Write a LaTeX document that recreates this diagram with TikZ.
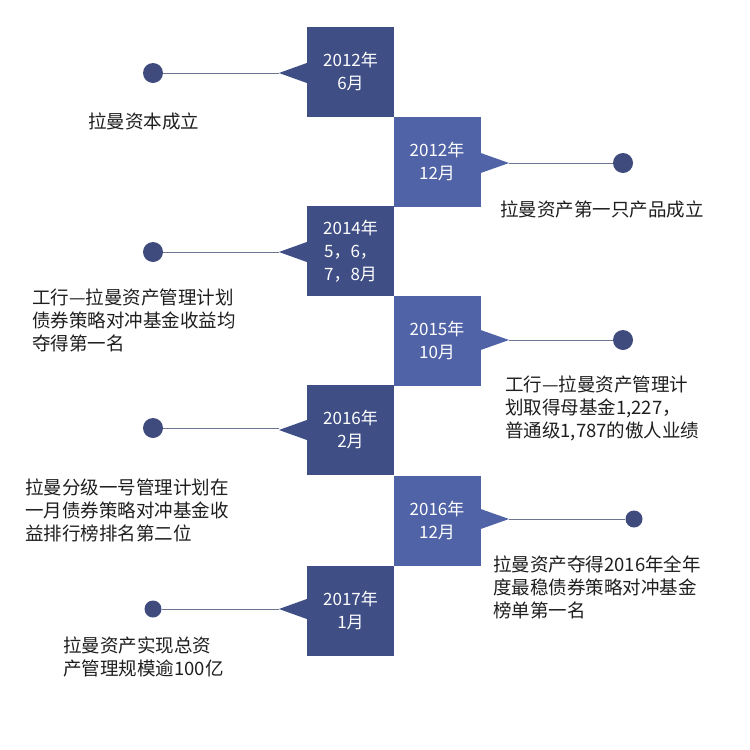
\documentclass[tikz,border=0pt]{standalone}
\usepackage{fontspec}
\setmainfont{Noto Sans CJK SC}
\begin{document}
\begin{tikzpicture}[x=1pt,y=-1pt,
  dk/.style={fill={rgb,255:red,63;green,78;blue,133}},
  lt/.style={fill={rgb,255:red,80;green,99;blue,166}},
  box/.style={minimum width=87pt,minimum height=90pt,inner sep=0pt,text=white,align=center,font=\fontsize{17}{23}\selectfont},
  dot/.style={circle,fill={rgb,255:red,63;green,75;blue,125},inner sep=0pt,minimum size=#1},
  conn/.style={draw={rgb,255:red,110;green,115;blue,145},line width=0.8pt},
  lbl/.style={anchor=west,align=left,inner sep=0pt,text={rgb,255:red,30;green,30;blue,30},font=\fontsize{18.5}{23}\selectfont}]
\useasboundingbox (0,0) rectangle (750,750);
% boxes
\node[box,dk] (b1) at (350.5,72) {2012年\\6月};
\node[box,lt] (b2) at (437,161.5) {2012年\\12月};
\node[box,dk] (b3) at (350.5,251) {2014年\\5，6，\\7，8月};
\node[box,lt] (b4) at (437,341) {2015年\\10月};
\node[box,dk] (b5) at (350.5,430) {2016年\\2月};
\node[box,lt] (b6) at (437,521) {2016年\\12月};
\node[box,dk] (b7) at (350.5,611) {2017年\\1月};
% pointers
\foreach \b/\y in {b1/73,b3/252,b5/430,b7/609}{
  \coordinate (t\b) at (279,\y);
  \fill[dk] ([yshift=-10pt]\b.west |- 0,\y) -- (t\b) -- ([yshift=10pt]\b.west |- 0,\y) -- cycle;}
\foreach \b/\y in {b2/163,b4/340,b6/519}{
  \coordinate (t\b) at (509,\y);
  \fill[lt] ([yshift=-10pt]\b.east |- 0,\y) -- (t\b) -- ([yshift=10pt]\b.east |- 0,\y) -- cycle;}
% dots
\node[dot=20pt] (d1) at (153,73) {};
\node[dot=20pt] (d2) at (623,163) {};
\node[dot=20pt] (d3) at (153,252) {};
\node[dot=20pt] (d4) at (623,340) {};
\node[dot=20pt] (d5) at (153,428) {};
\node[dot=17pt] (d6) at (634,519) {};
\node[dot=17pt] (d7) at (153,609) {};
\draw[conn] (d1) -- (tb1);
\draw[conn] (d3) -- (tb3);
\draw[conn] (d5) -- (d5 -| tb5);
\draw[conn] (d7) -- (tb7);
\draw[conn] (tb2) -- (d2);
\draw[conn] (tb4) -- (d4);
\draw[conn] (tb6) -- (d6);
% labels
\node[lbl] (l1) at (88,121) {拉曼资本成立};
\node[lbl] (l2) at (500,209) {拉曼资产第一只产品成立};
\node[lbl] (l3) at (32,320) {工行—拉曼资产管理计划\\债券策略对冲基金收益均\\夺得第一名};
\node[lbl] (l4) at (505,408) {工行—拉曼资产管理计\\划取得母基金1,227，\\普通级1,787的傲人业绩};
\node[lbl] (l5) at (25,510) {拉曼分级一号管理计划在\\一月债券策略对冲基金收\\益排行榜排名第二位};
\node[lbl] (l6) at (493,587) {拉曼资产夺得2016年全年\\度最稳债券策略对冲基金\\榜单第一名};
\node[lbl] (l7) at (63,657) {拉曼资产实现总资\\产管理规模逾100亿};
\end{tikzpicture}
\end{document}
